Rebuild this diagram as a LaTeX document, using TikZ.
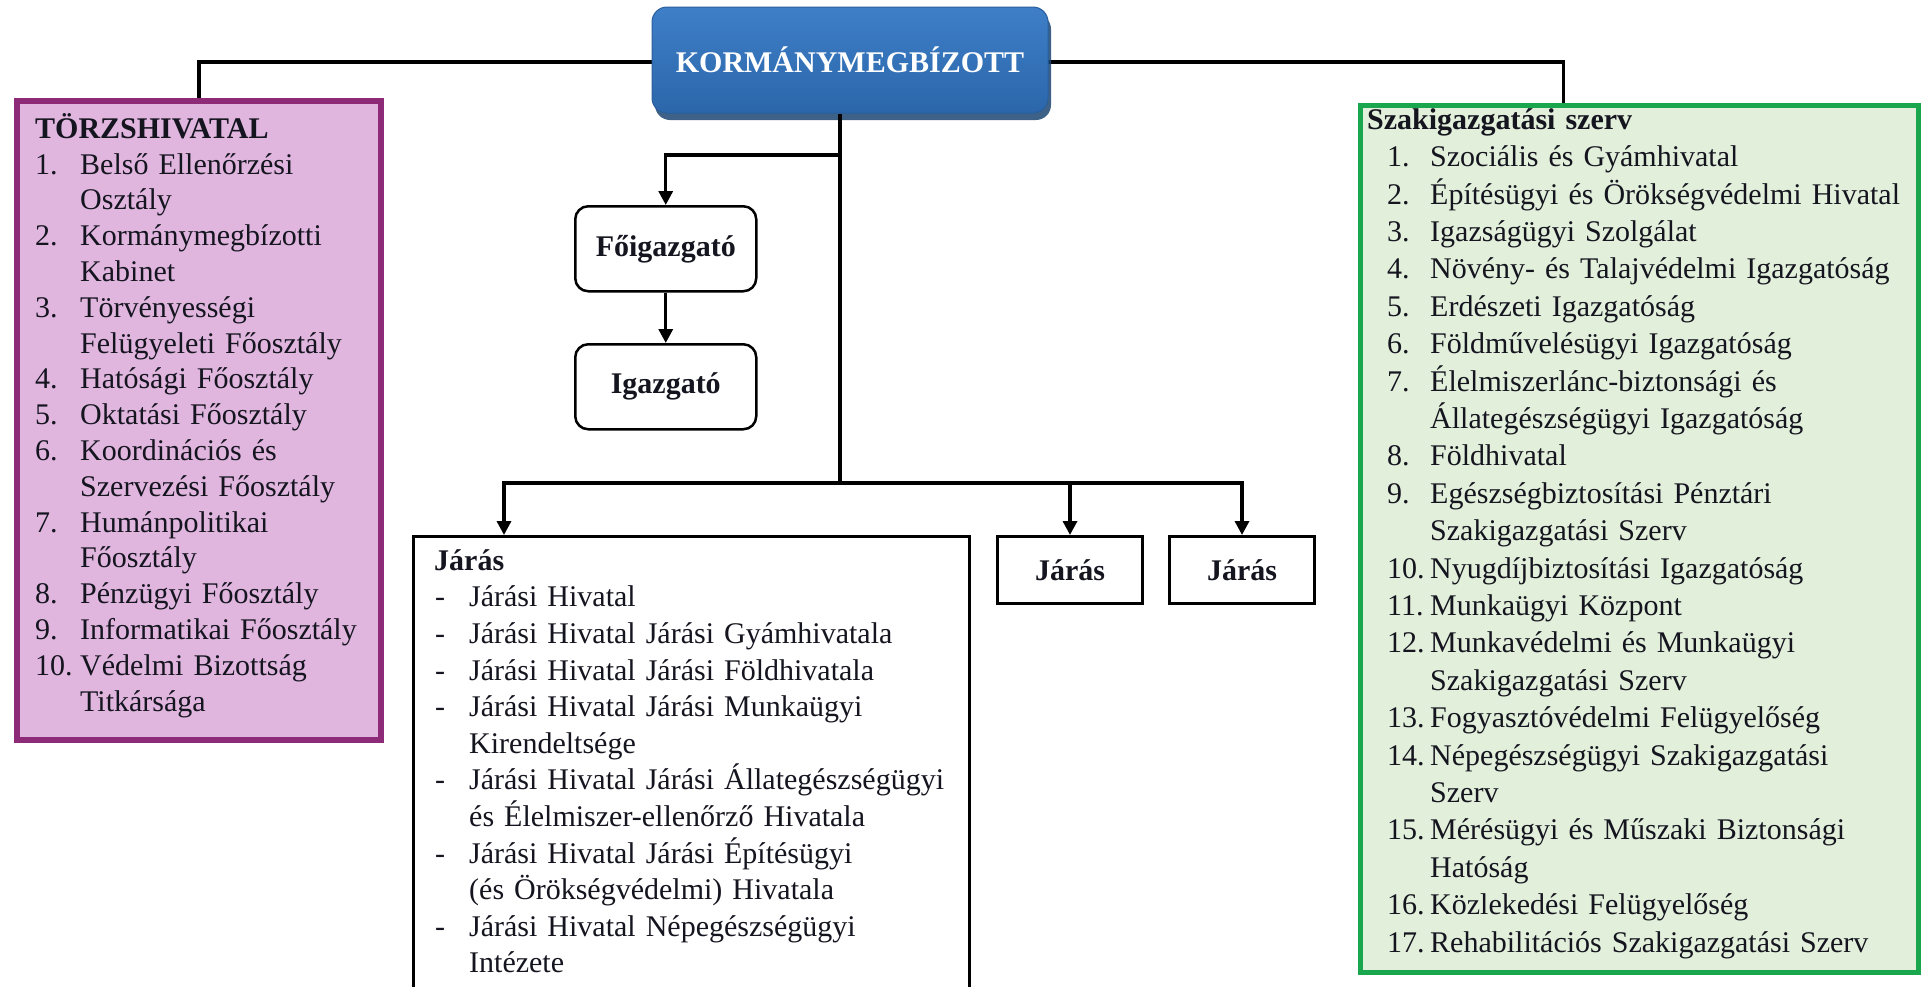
\documentclass[tikz,border=0pt]{standalone}
\usepackage{fontspec}
\setmainfont{Liberation Serif}
\usetikzlibrary{arrows.meta,shadows}
\definecolor{ink}{HTML}{151520}
\definecolor{kTop}{HTML}{3E7FC8}
\definecolor{kBot}{HTML}{2B66AA}
\definecolor{kBord}{HTML}{2A5F9E}
\definecolor{kShadow}{HTML}{1D4673}
\definecolor{purpF}{HTML}{E0B6DF}
\definecolor{purpB}{HTML}{8E2B78}
\definecolor{grnF}{HTML}{E2EFDA}
\definecolor{grnB}{HTML}{1AA64C}
\newcommand\tp{\rule{0pt}{28pt}}
\newcommand\ti[2]{\makebox[45pt][l]{#1}#2}
\newcommand\tc[1]{\hspace*{45pt}#1}
\newcommand\gi[2]{\hspace*{20pt}\makebox[43pt][l]{#1}#2}
\newcommand\gc[1]{\hspace*{63pt}#1}
\newcommand\ji[1]{\hspace*{1pt}\makebox[34pt][l]{-}#1}
\newcommand\jc[1]{\hspace*{35pt}#1}
\begin{document}
\begin{tikzpicture}[x=1pt,y=-1pt,
  conn/.style={draw=black,line width=3.3pt},
  arr/.style={conn,-{Triangle[length=14pt,width=14pt]}},
  txt/.style={inner sep=0pt,anchor=north west,align=left,text width=560pt,text=ink},
  kbox/.style={rounded corners=15pt,top color=kTop,bottom color=kBot,draw=kBord,line width=1pt,
    text=white,font=\fontsize{30}{36}\selectfont\bfseries,minimum width=396pt,minimum height=106pt,inner sep=0pt,
    drop shadow={shadow xshift=3pt,shadow yshift=-7pt,fill=kShadow,opacity=0.85}},
  rbox/.style={draw=black,line width=2.5pt,rounded corners=13pt,fill=white,anchor=north west,inner sep=0pt,
    minimum width=181pt,minimum height=85pt,text=ink,font=\fontsize{30}{36}\selectfont\bfseries},
  sbox/.style={draw=black,line width=3pt,fill=white,anchor=north west,inner sep=0pt,
    minimum width=145pt,minimum height=67pt,text=ink,font=\fontsize{30}{36}\selectfont\bfseries},
  listbox/.style={anchor=north west,inner sep=0pt}
]
\fill[white] (0,0) rectangle (1923,986);
\useasboundingbox (0,0) rectangle (1923,986);

% boxes
\node[listbox,draw=purpB,fill=purpF,line width=6pt,minimum width=364pt,minimum height=639pt] (torzs) at (14,98) {};
\node[listbox,draw=grnB,fill=grnF,line width=5pt,minimum width=558pt,minimum height=867pt] (szak) at (1357.5,102.5) {};
\node[listbox,draw=black,fill=white,line width=2.5pt,minimum width=556pt,minimum height=520pt] (jaras) at (412,535) {};

% top connectors (behind the blue box)
\draw[conn] (torzs.north) |- (850,62) -| ([xshift=206pt]szak.north west);

\node[kbox] (korm) at (850,60) {KORMÁNYMEGBÍZOTT};

\node[rbox] (foig) at (574,205) {Főigazgató};
\node[rbox] (igaz) at (574,343) {Igazgató};
\node[sbox] (jar2) at (996,535) {Járás};
\node[sbox] (jar3) at (1168,535) {Járás};

\coordinate (ja) at (840,155);
\coordinate (jb) at (840,483);

\draw[conn] (korm.south -| jb) -- (jb);
\draw[arr] (ja) -| (foig.north);
\draw[arr] (foig.south) -- (igaz.north);
\draw[arr] (jb) -| ([xshift=92pt]jaras.north west);
\draw[arr] (jb) -| (jar2.north);
\draw[arr] (jb) -| (jar3.north);

% texts
\node[txt,font=\fontsize{30}{35.8}\selectfont] (torzsT) at (35,110) {\tp\textbf{TÖRZSHIVATAL}\\
\ti{1.}{Belső Ellenőrzési}\\
\tc{Osztály}\\
\ti{2.}{Kormánymegbízotti}\\
\tc{Kabinet}\\
\ti{3.}{Törvényességi}\\
\tc{Felügyeleti Főosztály}\\
\ti{4.}{Hatósági Főosztály}\\
\ti{5.}{Oktatási Főosztály}\\
\ti{6.}{Koordinációs és}\\
\tc{Szervezési Főosztály}\\
\ti{7.}{Humánpolitikai}\\
\tc{Főosztály}\\
\ti{8.}{Pénzügyi Főosztály}\\
\ti{9.}{Informatikai Főosztály}\\
\ti{10.}{Védelmi Bizottság}\\
\tc{Titkársága}};

\node[txt,font=\fontsize{30}{37.4}\selectfont] (szakT) at (1367,101) {\tp\textbf{Szakigazgatási szerv}\\
\gi{1.}{Szociális és Gyámhivatal}\\
\gi{2.}{Építésügyi és Örökségvédelmi Hivatal}\\
\gi{3.}{Igazságügyi Szolgálat}\\
\gi{4.}{Növény- és Talajvédelmi Igazgatóság}\\
\gi{5.}{Erdészeti Igazgatóság}\\
\gi{6.}{Földművelésügyi Igazgatóság}\\
\gi{7.}{Élelmiszerlánc-biztonsági és}\\
\gc{Állategészségügyi Igazgatóság}\\
\gi{8.}{Földhivatal}\\
\gi{9.}{Egészségbiztosítási Pénztári}\\
\gc{Szakigazgatási Szerv}\\
\gi{10.}{Nyugdíjbiztosítási Igazgatóság}\\
\gi{11.}{Munkaügyi Központ}\\
\gi{12.}{Munkavédelmi és Munkaügyi}\\
\gc{Szakigazgatási Szerv}\\
\gi{13.}{Fogyasztóvédelmi Felügyelőség}\\
\gi{14.}{Népegészségügyi Szakigazgatási}\\
\gc{Szerv}\\
\gi{15.}{Mérésügyi és Műszaki Biztonsági}\\
\gc{Hatóság}\\
\gi{16.}{Közlekedési Felügyelőség}\\
\gi{17.}{Rehabilitációs Szakigazgatási Szerv}};

\node[txt,font=\fontsize{30}{36.6}\selectfont] (jarasT) at (434,542) {\tp\textbf{Járás}\\
\ji{Járási Hivatal}\\
\ji{Járási Hivatal Járási Gyámhivatala}\\
\ji{Járási Hivatal Járási Földhivatala}\\
\ji{Járási Hivatal Járási Munkaügyi}\\
\jc{Kirendeltsége}\\
\ji{Járási Hivatal Járási Állategészségügyi}\\
\jc{és Élelmiszer-ellenőrző Hivatala}\\
\ji{Járási Hivatal Járási Építésügyi}\\
\jc{(és Örökségvédelmi) Hivatala}\\
\ji{Járási Hivatal Népegészségügyi}\\
\jc{Intézete}};
\end{tikzpicture}
\end{document}
